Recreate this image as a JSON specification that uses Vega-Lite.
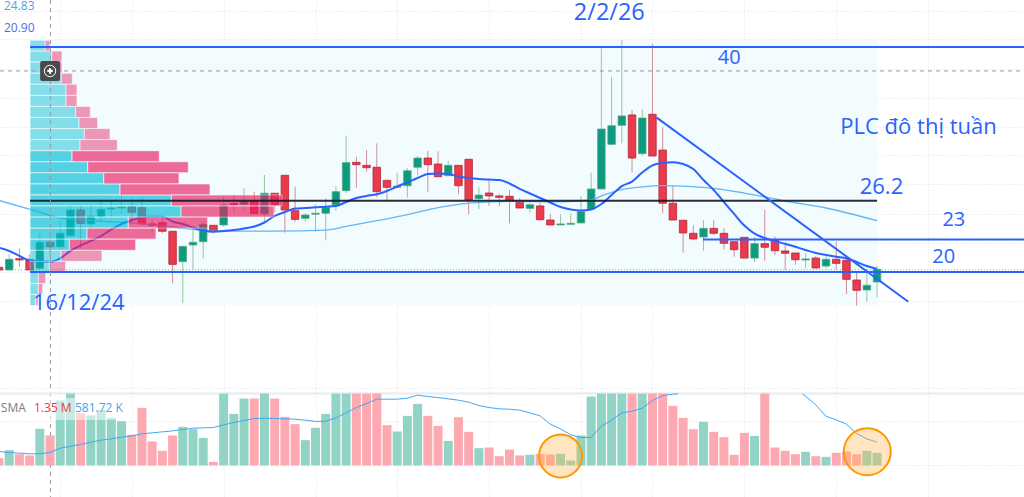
{
  "$schema": "https://vega.github.io/schema/vega-lite/v6.json",
  "description": "PLC weekly candles with volume profile and volume pane",
  "autosize": "none",
  "padding": 0,
  "width": 1024,
  "height": 497,
  "background": "#ffffff",
  "config": {"view": {"stroke": null}, "text": {"font": "Open Sans"}},
  "datasets": {
    "candles": [
      {"week":-1,"open":20.42,"high":20.42,"low":20.18,"close":20.18,"side":"down"},
      {"week":0,"open":20.18,"high":21.6,"low":20.18,"close":21.13,"side":"up"},
      {"week":1,"open":21.18,"high":22.11,"low":20.47,"close":21.07,"side":"down"},
      {"week":2,"open":21.13,"high":21.6,"low":20.18,"close":20.18,"side":"down"},
      {"week":3,"open":20.33,"high":23.38,"low":20.18,"close":22.64,"side":"up"},
      {"week":4,"open":22.64,"high":23.08,"low":21.36,"close":22.25,"side":"down"},
      {"week":5,"open":22.25,"high":24.56,"low":22.11,"close":23.44,"side":"up"},
      {"week":6,"open":23.23,"high":25.96,"low":23.08,"close":25.51,"side":"up"},
      {"week":7,"open":25.51,"high":25.89,"low":22.11,"close":24.33,"side":"down"},
      {"week":8,"open":24.27,"high":25.96,"low":23.88,"close":24.98,"side":"up"},
      {"week":9,"open":24.92,"high":26.55,"low":24.38,"close":25.57,"side":"up"},
      {"week":10,"open":25.6,"high":26.25,"low":24.92,"close":25.69,"side":"up"},
      {"week":11,"open":25.69,"high":26.99,"low":25.22,"close":25.78,"side":"up"},
      {"week":12,"open":25.8,"high":26.55,"low":24.62,"close":25.31,"side":"down"},
      {"week":13,"open":25.72,"high":26.6,"low":24.27,"close":24.27,"side":"down"},
      {"week":14,"open":24.27,"high":24.62,"low":23.58,"close":24.15,"side":"down"},
      {"week":15,"open":24.38,"high":24.92,"low":23.44,"close":23.62,"side":"down"},
      {"week":16,"open":23.62,"high":23.64,"low":19.0,"close":20.68,"side":"down"},
      {"week":17,"open":20.92,"high":22.31,"low":17.22,"close":22.28,"side":"up"},
      {"week":18,"open":22.4,"high":23.73,"low":20.24,"close":22.64,"side":"up"},
      {"week":19,"open":22.69,"high":24.53,"low":21.18,"close":24.24,"side":"up"},
      {"week":20,"open":24.15,"high":24.15,"low":23.44,"close":23.62,"side":"down"},
      {"week":21,"open":24.18,"high":26.69,"low":24.03,"close":25.96,"side":"up"},
      {"week":22,"open":26.07,"high":26.84,"low":25.36,"close":25.98,"side":"down"},
      {"week":23,"open":25.98,"high":27.44,"low":25.36,"close":26.34,"side":"up"},
      {"week":24,"open":26.31,"high":27.14,"low":25.18,"close":25.18,"side":"down"},
      {"week":25,"open":25.16,"high":28.62,"low":24.53,"close":27.0,"side":"up"},
      {"week":26,"open":27.0,"high":27.0,"low":25.27,"close":25.98,"side":"down"},
      {"week":27,"open":28.6,"high":28.6,"low":23.49,"close":25.51,"side":"down"},
      {"week":28,"open":25.45,"high":27.58,"low":24.47,"close":24.68,"side":"down"},
      {"week":29,"open":24.77,"high":25.22,"low":24.47,"close":25.07,"side":"up"},
      {"week":30,"open":25.13,"high":26.02,"low":23.58,"close":25.22,"side":"up"},
      {"week":31,"open":25.22,"high":26.55,"low":22.84,"close":25.75,"side":"up"},
      {"week":32,"open":25.96,"high":27.64,"low":25.45,"close":27.14,"side":"up"},
      {"week":33,"open":27.23,"high":32.12,"low":27.0,"close":29.72,"side":"up"},
      {"week":34,"open":29.75,"high":30.25,"low":27.49,"close":29.54,"side":"down"},
      {"week":35,"open":29.48,"high":30.84,"low":28.92,"close":29.27,"side":"down"},
      {"week":36,"open":29.31,"high":31.44,"low":26.64,"close":27.14,"side":"down"},
      {"week":37,"open":28.15,"high":28.15,"low":26.25,"close":27.53,"side":"down"},
      {"week":38,"open":27.53,"high":28.83,"low":27.44,"close":27.62,"side":"up"},
      {"week":39,"open":27.67,"high":29.22,"low":26.64,"close":29.0,"side":"up"},
      {"week":40,"open":29.31,"high":30.31,"low":28.62,"close":30.13,"side":"up"},
      {"week":41,"open":30.13,"high":30.76,"low":27.14,"close":29.54,"side":"down"},
      {"week":42,"open":29.6,"high":30.73,"low":28.47,"close":28.47,"side":"down"},
      {"week":43,"open":28.56,"high":29.87,"low":28.56,"close":29.48,"side":"up"},
      {"week":44,"open":29.48,"high":29.48,"low":26.91,"close":27.67,"side":"down"},
      {"week":45,"open":30.02,"high":30.02,"low":25.13,"close":26.4,"side":"down"},
      {"week":46,"open":26.52,"high":27.53,"low":25.6,"close":26.84,"side":"up"},
      {"week":47,"open":27.02,"high":28.24,"low":25.89,"close":26.76,"side":"down"},
      {"week":48,"open":26.76,"high":26.91,"low":25.87,"close":26.64,"side":"down"},
      {"week":49,"open":26.73,"high":27.29,"low":24.33,"close":26.31,"side":"down"},
      {"week":50,"open":26.2,"high":26.55,"low":25.66,"close":25.69,"side":"down"},
      {"week":51,"open":25.66,"high":26.11,"low":25.27,"close":25.98,"side":"up"},
      {"week":52,"open":25.87,"high":26.16,"low":24.56,"close":24.65,"side":"down"},
      {"week":53,"open":24.62,"high":25.16,"low":24.18,"close":24.18,"side":"down"},
      {"week":54,"open":24.18,"high":25.13,"low":24.18,"close":24.27,"side":"up"},
      {"week":55,"open":24.24,"high":25.22,"low":24.18,"close":24.33,"side":"up"},
      {"week":56,"open":24.36,"high":26.76,"low":24.33,"close":25.36,"side":"up"},
      {"week":57,"open":25.6,"high":28.83,"low":25.51,"close":27.38,"side":"up"},
      {"week":58,"open":27.38,"high":39.88,"low":27.38,"close":32.71,"side":"up"},
      {"week":59,"open":31.35,"high":37.36,"low":31.29,"close":33.0,"side":"up"},
      {"week":60,"open":33.04,"high":40.62,"low":31.44,"close":33.87,"side":"up"},
      {"week":61,"open":33.96,"high":34.4,"low":28.83,"close":30.13,"side":"down"},
      {"week":62,"open":30.52,"high":34.46,"low":30.31,"close":33.69,"side":"up"},
      {"week":63,"open":34.02,"high":40.27,"low":30.31,"close":30.31,"side":"down"},
      {"week":64,"open":30.84,"high":32.86,"low":25.22,"close":26.11,"side":"down"},
      {"week":65,"open":26.11,"high":27.73,"low":24.62,"close":24.62,"side":"down"},
      {"week":66,"open":24.6,"high":24.6,"low":21.72,"close":23.47,"side":"down"},
      {"week":67,"open":23.44,"high":24.15,"low":22.84,"close":22.94,"side":"down"},
      {"week":68,"open":23.11,"high":24.62,"low":21.89,"close":23.88,"side":"up"},
      {"week":69,"open":23.88,"high":24.62,"low":23.35,"close":23.44,"side":"down"},
      {"week":70,"open":23.44,"high":23.88,"low":22.02,"close":22.55,"side":"down"},
      {"week":71,"open":22.69,"high":22.69,"low":21.36,"close":21.98,"side":"down"},
      {"week":72,"open":23.08,"high":23.08,"low":21.24,"close":21.24,"side":"down"},
      {"week":73,"open":21.24,"high":23.14,"low":20.89,"close":22.52,"side":"up"},
      {"week":74,"open":22.52,"high":25.51,"low":21.0,"close":22.2,"side":"down"},
      {"week":75,"open":22.84,"high":23.14,"low":21.51,"close":21.89,"side":"down"},
      {"week":76,"open":21.87,"high":22.55,"low":20.18,"close":21.66,"side":"down"},
      {"week":77,"open":21.69,"high":21.69,"low":20.65,"close":21.09,"side":"down"},
      {"week":78,"open":21.07,"high":21.66,"low":20.33,"close":21.16,"side":"up"},
      {"week":79,"open":21.24,"high":21.42,"low":20.29,"close":20.36,"side":"down"},
      {"week":80,"open":20.53,"high":21.42,"low":20.29,"close":21.13,"side":"up"},
      {"week":81,"open":21.13,"high":22.69,"low":20.24,"close":20.77,"side":"down"},
      {"week":82,"open":21.04,"high":21.22,"low":18.04,"close":19.35,"side":"down"},
      {"week":83,"open":19.29,"high":19.94,"low":17.0,"close":18.37,"side":"down"},
      {"week":84,"open":18.4,"high":20.24,"low":17.36,"close":18.82,"side":"up"},
      {"week":85,"open":19.11,"high":20.53,"low":17.72,"close":20.24,"side":"up"}
    ],
    "ma_fast": [
      {"week":-1,"price":22.15},{"week":0,"price":21.87},{"week":1,"price":21.44},{"week":2,"price":21.02},{"week":3,"price":20.95},
      {"week":4,"price":20.92},{"week":5,"price":21.22},{"week":6,"price":21.87},{"week":7,"price":22.36},{"week":8,"price":22.76},
      {"week":9,"price":23.2},{"week":10,"price":23.78},{"week":11,"price":24.27},{"week":12,"price":24.58},{"week":13,"price":24.89},
      {"week":14,"price":24.92},{"week":15,"price":24.92},{"week":16,"price":24.49},{"week":17,"price":24.27},{"week":18,"price":23.96},
      {"week":19,"price":23.69},{"week":20,"price":23.58},{"week":21,"price":23.64},{"week":22,"price":23.73},{"week":23,"price":23.87},
      {"week":24,"price":24.04},{"week":25,"price":24.4},{"week":26,"price":24.98},{"week":27,"price":25.33},{"week":28,"price":25.64},
      {"week":29,"price":25.69},{"week":30,"price":25.75},{"week":31,"price":25.8},{"week":32,"price":25.87},{"week":33,"price":26.22},
      {"week":34,"price":26.58},{"week":35,"price":26.76},{"week":36,"price":26.91},{"week":37,"price":27.2},{"week":38,"price":27.6},
      {"week":39,"price":27.97},{"week":40,"price":28.36},{"week":41,"price":28.71},{"week":42,"price":28.76},{"week":43,"price":28.71},
      {"week":44,"price":28.49},{"week":45,"price":28.36},{"week":46,"price":28.27},{"week":47,"price":28.22},{"week":48,"price":28.18},
      {"week":49,"price":27.87},{"week":50,"price":27.38},{"week":51,"price":26.98},{"week":52,"price":26.58},{"week":53,"price":26.18},
      {"week":54,"price":25.78},{"week":55,"price":25.56},{"week":56,"price":25.47},{"week":57,"price":25.56},{"week":58,"price":26.04},
      {"week":59,"price":26.84},{"week":60,"price":27.64},{"week":61,"price":28.03},{"week":62,"price":28.84},{"week":63,"price":29.48},
      {"week":64,"price":29.69},{"week":65,"price":29.75},{"week":66,"price":29.6},{"week":67,"price":29.16},{"week":68,"price":28.18},
      {"week":69,"price":27.29},{"week":70,"price":26.22},{"week":71,"price":25.16},{"week":72,"price":24.13},{"week":73,"price":23.42},
      {"week":74,"price":23.02},{"week":75,"price":22.73},{"week":76,"price":22.51},{"week":77,"price":22.24},{"week":78,"price":21.96},
      {"week":79,"price":21.69},{"week":80,"price":21.51},{"week":81,"price":21.35},{"week":82,"price":21.23},{"week":83,"price":20.89},
      {"week":84,"price":20.53},{"week":85,"price":20.27}
    ],
    "ma_slow": [
      {"week":-1,"price":26.36},{"week":3,"price":25.33},{"week":5,"price":24.8},{"week":7,"price":24.67},{"week":9,"price":24.53},
      {"week":12,"price":24.36},{"week":16,"price":24.0},{"week":20,"price":23.64},{"week":26,"price":23.63},{"week":31,"price":23.73},
      {"week":33,"price":24.05},{"week":36,"price":24.56},{"week":39,"price":25.11},{"week":42,"price":25.73},{"week":45,"price":26.13},
      {"week":49,"price":26.29},{"week":54,"price":26.24},{"week":57,"price":26.4},{"week":58,"price":26.76},{"week":60,"price":27.32},
      {"week":62,"price":27.56},{"week":64,"price":27.67},{"week":68,"price":27.53},{"week":72,"price":27.02},{"week":76,"price":26.31},
      {"week":80,"price":25.69},{"week":85,"price":24.56}
    ],
    "profile": [
      {"hi":40.6,"lo":39.64,"base":0,"up":15,"total":20,"zone":"outside"},
      {"hi":39.64,"lo":38.66,"base":0,"up":21.7,"total":32,"zone":"outside"},
      {"hi":38.66,"lo":37.67,"base":0,"up":22,"total":32,"zone":"outside"},
      {"hi":37.67,"lo":36.69,"base":0,"up":31.3,"total":42.3,"zone":"outside"},
      {"hi":36.69,"lo":35.7,"base":0,"up":36,"total":47,"zone":"outside"},
      {"hi":35.7,"lo":34.72,"base":0,"up":36,"total":47,"zone":"outside"},
      {"hi":34.72,"lo":33.74,"base":0,"up":45.7,"total":60.3,"zone":"outside"},
      {"hi":33.74,"lo":32.75,"base":0,"up":49,"total":67.7,"zone":"outside"},
      {"hi":32.75,"lo":31.77,"base":0,"up":54.3,"total":80,"zone":"outside"},
      {"hi":31.77,"lo":30.78,"base":0,"up":50,"total":87.3,"zone":"outside"},
      {"hi":30.78,"lo":29.8,"base":0,"up":42,"total":129.3,"zone":"value"},
      {"hi":29.8,"lo":28.82,"base":0,"up":57.7,"total":158.3,"zone":"value"},
      {"hi":28.82,"lo":27.83,"base":0,"up":73.7,"total":149,"zone":"value"},
      {"hi":27.83,"lo":26.85,"base":0,"up":90,"total":180,"zone":"value"},
      {"hi":26.85,"lo":25.87,"base":0,"up":141.3,"total":252,"zone":"value"},
      {"hi":25.87,"lo":24.88,"base":0,"up":151,"total":244,"zone":"value"},
      {"hi":24.88,"lo":23.9,"base":0,"up":98.3,"total":177.7,"zone":"value"},
      {"hi":23.9,"lo":22.92,"base":0,"up":57,"total":126,"zone":"value"},
      {"hi":22.92,"lo":21.93,"base":0,"up":39.3,"total":105.7,"zone":"value"},
      {"hi":21.93,"lo":20.95,"base":0,"up":31,"total":72,"zone":"outside"},
      {"hi":20.95,"lo":19.97,"base":0,"up":19.3,"total":35.7,"zone":"outside"},
      {"hi":19.97,"lo":18.98,"base":0,"up":8.3,"total":15.7,"zone":"outside"},
      {"hi":18.98,"lo":18.0,"base":0,"up":8.3,"total":12.7,"zone":"outside"},
      {"hi":18.0,"lo":17.02,"base":0,"up":5.7,"total":8.3,"zone":"outside"}
    ],
    "volume": [
      {"week":-1,"vol":183,"side":"down"},{"week":0,"vol":383,"side":"up"},{"week":1,"vol":283,"side":"down"},{"week":2,"vol":250,"side":"down"},
      {"week":3,"vol":917,"side":"up"},{"week":4,"vol":750,"side":"down"},{"week":5,"vol":1625,"side":"up"},{"week":6,"vol":1800,"side":"up"},
      {"week":7,"vol":1308,"side":"down"},{"week":8,"vol":1250,"side":"up"},{"week":9,"vol":1391,"side":"up"},{"week":10,"vol":1191,"side":"up"},
      {"week":11,"vol":1108,"side":"up"},{"week":12,"vol":766,"side":"down"},{"week":13,"vol":1441,"side":"down"},{"week":14,"vol":600,"side":"down"},
      {"week":15,"vol":367,"side":"down"},{"week":16,"vol":750,"side":"down"},{"week":17,"vol":966,"side":"up"},{"week":18,"vol":908,"side":"up"},
      {"week":19,"vol":691,"side":"up"},{"week":20,"vol":92,"side":"down"},{"week":21,"vol":1800,"side":"up"},{"week":22,"vol":1291,"side":"up"},
      {"week":23,"vol":1674,"side":"up"},{"week":24,"vol":1674,"side":"down"},{"week":25,"vol":1800,"side":"up"},{"week":26,"vol":1674,"side":"down"},
      {"week":27,"vol":1216,"side":"down"},{"week":28,"vol":1033,"side":"down"},{"week":29,"vol":633,"side":"up"},{"week":30,"vol":941,"side":"up"},
      {"week":31,"vol":1291,"side":"up"},{"week":32,"vol":1800,"side":"up"},{"week":33,"vol":1800,"side":"up"},{"week":34,"vol":1800,"side":"down"},
      {"week":35,"vol":1800,"side":"down"},{"week":36,"vol":1800,"side":"down"},{"week":37,"vol":1008,"side":"down"},{"week":38,"vol":850,"side":"up"},
      {"week":39,"vol":1241,"side":"up"},{"week":40,"vol":1541,"side":"up"},{"week":41,"vol":1241,"side":"down"},{"week":42,"vol":991,"side":"down"},
      {"week":43,"vol":616,"side":"up"},{"week":44,"vol":1208,"side":"down"},{"week":45,"vol":841,"side":"down"},{"week":46,"vol":433,"side":"up"},
      {"week":47,"vol":450,"side":"down"},{"week":48,"vol":233,"side":"down"},{"week":49,"vol":400,"side":"down"},{"week":50,"vol":250,"side":"down"},
      {"week":51,"vol":267,"side":"up"},{"week":52,"vol":292,"side":"down"},{"week":53,"vol":275,"side":"down"},{"week":54,"vol":292,"side":"up"},
      {"week":55,"vol":125,"side":"up"},{"week":56,"vol":750,"side":"up"},{"week":57,"vol":1724,"side":"up"},{"week":58,"vol":1800,"side":"up"},
      {"week":59,"vol":1800,"side":"up"},{"week":60,"vol":1800,"side":"up"},{"week":61,"vol":1800,"side":"down"},{"week":62,"vol":1800,"side":"up"},
      {"week":63,"vol":1800,"side":"down"},{"week":64,"vol":1800,"side":"down"},{"week":65,"vol":1491,"side":"down"},{"week":66,"vol":1191,"side":"down"},
      {"week":67,"vol":908,"side":"down"},{"week":68,"vol":1091,"side":"up"},{"week":69,"vol":841,"side":"down"},{"week":70,"vol":708,"side":"down"},
      {"week":71,"vol":267,"side":"down"},{"week":72,"vol":816,"side":"down"},{"week":73,"vol":741,"side":"up"},{"week":74,"vol":1800,"side":"down"},
      {"week":75,"vol":450,"side":"down"},{"week":76,"vol":367,"side":"down"},{"week":77,"vol":283,"side":"down"},{"week":78,"vol":342,"side":"up"},
      {"week":79,"vol":233,"side":"down"},{"week":80,"vol":217,"side":"up"},{"week":81,"vol":317,"side":"down"},{"week":82,"vol":350,"side":"down"},
      {"week":83,"vol":283,"side":"down"},{"week":84,"vol":367,"side":"up"},{"week":85,"vol":317,"side":"up"}
    ],
    "vol_sma": [
      {"week":-1,"vol":350,"part":"a"},{"week":0,"vol":325,"part":"a"},{"week":1,"vol":308,"part":"a"},{"week":2,"vol":292,"part":"a"},{"week":3,"vol":292,"part":"a"},
      {"week":4,"vol":325,"part":"a"},{"week":5,"vol":433,"part":"a"},{"week":6,"vol":483,"part":"a"},{"week":7,"vol":525,"part":"a"},{"week":8,"vol":583,"part":"a"},
      {"week":9,"vol":633,"part":"a"},{"week":10,"vol":666,"part":"a"},{"week":11,"vol":708,"part":"a"},{"week":12,"vol":741,"part":"a"},{"week":13,"vol":791,"part":"a"},
      {"week":14,"vol":816,"part":"a"},{"week":15,"vol":841,"part":"a"},{"week":16,"vol":866,"part":"a"},{"week":17,"vol":900,"part":"a"},{"week":18,"vol":933,"part":"a"},
      {"week":19,"vol":941,"part":"a"},{"week":20,"vol":950,"part":"a"},{"week":21,"vol":1016,"part":"a"},{"week":22,"vol":1075,"part":"a"},{"week":23,"vol":1125,"part":"a"},
      {"week":24,"vol":1175,"part":"a"},{"week":25,"vol":1183,"part":"a"},{"week":26,"vol":1175,"part":"a"},{"week":27,"vol":1166,"part":"a"},{"week":28,"vol":1158,"part":"a"},
      {"week":29,"vol":1133,"part":"a"},{"week":30,"vol":1100,"part":"a"},{"week":31,"vol":1108,"part":"a"},{"week":32,"vol":1191,"part":"a"},{"week":33,"vol":1316,"part":"a"},
      {"week":34,"vol":1449,"part":"a"},{"week":35,"vol":1549,"part":"a"},{"week":36,"vol":1658,"part":"a"},{"week":37,"vol":1658,"part":"a"},{"week":38,"vol":1658,"part":"a"},
      {"week":39,"vol":1683,"part":"a"},{"week":40,"vol":1758,"part":"a"},{"week":41,"vol":1724,"part":"a"},{"week":42,"vol":1699,"part":"a"},{"week":43,"vol":1666,"part":"a"},
      {"week":44,"vol":1633,"part":"a"},{"week":45,"vol":1583,"part":"a"},{"week":46,"vol":1499,"part":"a"},{"week":47,"vol":1449,"part":"a"},{"week":48,"vol":1416,"part":"a"},
      {"week":49,"vol":1408,"part":"a"},{"week":50,"vol":1383,"part":"a"},{"week":51,"vol":1316,"part":"a"},{"week":52,"vol":1241,"part":"a"},{"week":53,"vol":1033,"part":"a"},
      {"week":54,"vol":916,"part":"a"},{"week":55,"vol":766,"part":"a"},{"week":56,"vol":700,"part":"a"},{"week":57,"vol":700,"part":"a"},{"week":58,"vol":983,"part":"a"},
      {"week":59,"vol":1133,"part":"a"},{"week":60,"vol":1316,"part":"a"},{"week":61,"vol":1358,"part":"a"},{"week":62,"vol":1433,"part":"a"},{"week":63,"vol":1624,"part":"a"},
      {"week":64,"vol":1749,"part":"a"},{"week":65,"vol":1783,"part":"a"},{"week":65.5,"vol":1791,"part":"a"},
      {"week":77.7,"vol":1791,"part":"b"},{"week":78,"vol":1733,"part":"b"},{"week":79,"vol":1516,"part":"b"},{"week":80,"vol":1233,"part":"b"},{"week":81,"vol":1141,"part":"b"},
      {"week":82,"vol":1033,"part":"b"},{"week":83,"vol":800,"part":"b"},{"week":84,"vol":666,"part":"b"},{"week":85,"vol":581.72,"part":"b"}
    ]
  },
  "resolve": {"scale": {"x": "independent", "y": "independent", "color": "independent", "fill": "independent", "stroke": "independent", "opacity": "independent"}},
  "layer": [
    {
      "encoding": {
        "x": {"field": "week", "type": "quantitative", "title": null, "scale": {"domain": [-0.901, 99.39], "nice": false, "zero": false, "padding": 0},
          "axis": {"orient": "bottom", "values": [5, 12, 21, 30, 38, 47, 56, 63, 72, 81, 90], "domain": false, "ticks": false, "labels": false, "title": null, "grid": true, "gridColor": "#dfe2ea", "gridDash": [1, 2]}},
        "y": {"field": "price", "type": "quantitative", "title": null, "scale": {"domain": [0, 44.178], "nice": false, "zero": false},
          "axis": {"orient": "left", "values": [43.24, 40.67, 38.08, 35.51, 32.93, 30.36, 27.78, 25.2, 22.58, 20, 17.45, 9.72, 6.76, 2.81], "domain": false, "ticks": false, "labels": false, "title": null, "grid": true, "gridColor": "#dfe2ea", "gridDash": [1, 2]}}
      },
      "layer": [
        {
          "data": {"values": [{"week": 2.04, "end": 85, "price": 40.62, "bottom": 17.02}]},
          "mark": {"type": "rect", "color": "#f2fbfe"},
          "encoding": {"x2": {"field": "end"}, "y2": {"field": "bottom"}}
        },
        {
          "data": {"name": "candles"},
          "mark": {"type": "rule", "strokeWidth": 1, "opacity": 0.55},
          "encoding": {
            "y": {"field": "high", "type": "quantitative"},
            "y2": {"field": "low"},
            "color": {"field": "side", "type": "nominal", "legend": null, "scale": {"domain": ["up", "down"], "range": ["#4f9a4f", "#b5363f"]}}
          }
        },
        {
          "data": {"name": "candles"},
          "mark": {"type": "bar", "size": 7.5, "orient": "vertical", "strokeWidth": 0.8},
          "encoding": {
            "y": {"field": "open", "type": "quantitative"},
            "y2": {"field": "close"},
            "fill": {"field": "side", "type": "nominal", "legend": null, "scale": {"domain": ["up", "down"], "range": ["#0a9b80", "#ea3b4c"]}},
            "stroke": {"field": "side", "type": "nominal", "legend": null, "scale": {"domain": ["up", "down"], "range": ["#5aa57c", "#b8233a"]}}
          }
        },
        {
          "data": {"name": "ma_slow"},
          "mark": {"type": "line", "stroke": "#64b5f6", "strokeWidth": 1.3, "interpolate": "monotone"},
          "encoding": {}
        },
        {
          "data": {"name": "ma_fast"},
          "mark": {"type": "line", "stroke": "#2962ff", "strokeWidth": 2, "interpolate": "monotone"},
          "encoding": {}
        }
      ]
    },
    {
      "data": {"name": "profile"},
      "encoding": {
        "x": {"field": "base", "type": "quantitative", "scale": {"domain": [-30, 994], "nice": false, "zero": false}, "axis": null},
        "y": {"field": "hi", "type": "quantitative", "scale": {"domain": [0, 44.178], "nice": false, "zero": false}, "axis": null},
        "y2": {"field": "lo"},
        "opacity": {"field": "zone", "type": "nominal", "legend": null, "scale": {"domain": ["value", "outside"], "range": [0.65, 0.45]}}
      },
      "layer": [
        {
          "mark": {"type": "rect", "color": "#00bcd4", "stroke": "#ffffff", "strokeWidth": 0.7},
          "encoding": {"x2": {"field": "up"}}
        },
        {
          "mark": {"type": "rect", "color": "#e91e63", "stroke": "#ffffff", "strokeWidth": 0.7},
          "encoding": {"x": {"field": "up", "type": "quantitative"}, "x2": {"field": "total"}}
        }
      ]
    },
    {
      "encoding": {
        "x": {"field": "week", "type": "quantitative", "scale": {"domain": [-0.901, 99.39], "nice": false, "zero": false}, "axis": null},
        "y": {"field": "price", "type": "quantitative", "scale": {"domain": [0, 44.178], "nice": false, "zero": false}, "axis": null}
      },
      "layer": [
        {
          "data": {"values": [{"week": -0.901, "end": 99.39, "price": 37.87}]},
          "mark": {"type": "rule", "stroke": "#9598a1", "strokeWidth": 1, "strokeDash": [4, 4]},
          "encoding": {"x2": {"field": "end"}}
        },
        {
          "data": {"values": [{"week": -0.901, "end": 99.39, "price": 20.2}]},
          "mark": {"type": "rule", "stroke": "#089981", "strokeWidth": 1, "strokeDash": [1, 2], "opacity": 0.6},
          "encoding": {"x2": {"field": "end"}}
        },
        {
          "data": {"values": [{"week": 2.04, "end": 85, "price": 26.33}]},
          "mark": {"type": "rule", "stroke": "#131722", "strokeWidth": 2, "opacity": 0.9},
          "encoding": {"x2": {"field": "end"}}
        },
        {
          "data": {"values": [
            {"week": 2.04, "end": 99.39, "price": 40},
            {"week": 67.95, "end": 99.39, "price": 22.9},
            {"week": 2.04, "end": 99.39, "price": 20}
          ]},
          "mark": {"type": "rule", "stroke": "#2962ff", "strokeWidth": 2},
          "encoding": {"x2": {"field": "end"}}
        },
        {
          "data": {"values": [{"week": 63.42, "price": 33.72}, {"week": 88.06, "price": 17.36}]},
          "mark": {"type": "line", "stroke": "#2962ff", "strokeWidth": 2},
          "encoding": {}
        },
        {
          "data": {"values": [{"week": 4.04, "price": 44.178, "bottom": 0}]},
          "mark": {"type": "rule", "stroke": "#9598a1", "strokeWidth": 1, "strokeDash": [4, 4]},
          "encoding": {"y2": {"field": "bottom"}}
        },
        {
          "data": {"values": [{"week": 3.03, "end": 4.99, "price": 38.76, "bottom": 36.98}]},
          "mark": {"type": "rect", "color": "#4a4a4d", "cornerRadius": 2},
          "encoding": {"x2": {"field": "end"}, "y2": {"field": "bottom"}}
        },
        {
          "data": {"values": [{"week": 4.0, "price": 37.87}]},
          "mark": {"type": "point", "shape": "circle", "size": 130, "stroke": "#ffffff", "strokeWidth": 1, "filled": false, "opacity": 1},
          "encoding": {}
        },
        {
          "data": {"values": [{"week": 4.0, "price": 37.87}]},
          "mark": {"type": "point", "shape": "cross", "size": 30, "fill": "#ffffff", "filled": true, "opacity": 1},
          "encoding": {}
        },
        {
          "data": {"values": [{"week": -0.51, "price": 43.62, "label": "24.83"}]},
          "mark": {"type": "text", "align": "left", "baseline": "middle", "fontSize": 12, "color": "#4ea0ef"},
          "encoding": {"text": {"field": "label", "type": "nominal"}}
        },
        {
          "data": {"values": [{"week": -0.51, "price": 41.69, "label": "20.90"}]},
          "mark": {"type": "text", "align": "left", "baseline": "middle", "fontSize": 12, "color": "#4a72e0"},
          "encoding": {"text": {"field": "label", "type": "nominal"}}
        },
        {
          "data": {"values": [
            {"week": 69.4, "price": 39.02, "label": "40"},
            {"week": 91.4, "price": 24.62, "label": "23"},
            {"week": 90.4, "price": 21.33, "label": "20"}
          ]},
          "mark": {"type": "text", "align": "left", "baseline": "middle", "fontSize": 20, "color": "#2962ff"},
          "encoding": {"text": {"field": "label", "type": "nominal"}}
        },
        {
          "data": {"values": [
            {"week": 2.33, "price": 17.24, "label": "16/12/24"},
            {"week": 81.4, "price": 32.9, "label": "PLC đô thị tuần"},
            {"week": 83.3, "price": 27.56, "label": "26.2"}
          ]},
          "mark": {"type": "text", "align": "left", "baseline": "middle", "fontSize": 22, "color": "#2962ff"},
          "encoding": {"text": {"field": "label", "type": "nominal"}}
        },
        {
          "data": {"values": [{"week": 55.3, "price": 42.99, "label": "2/2/26"}]},
          "mark": {"type": "text", "align": "left", "baseline": "middle", "fontSize": 23.5, "color": "#2962ff"},
          "encoding": {"text": {"field": "label", "type": "nominal"}}
        }
      ]
    },
    {
      "encoding": {
        "x": {"field": "week", "type": "quantitative", "scale": {"domain": [-0.901, 99.39], "nice": false, "zero": false, "padding": 0}, "axis": null},
        "y": {"field": "vol", "type": "quantitative", "scale": {"domain": [-787.5, 11637.5], "nice": false, "zero": false}, "axis": null}
      },
      "layer": [
        {
          "data": {"values": [{"week": -0.901, "end": 99.39, "vol": 1800}]},
          "mark": {"type": "rule", "stroke": "#eceef3", "strokeWidth": 2.5},
          "encoding": {"x2": {"field": "end"}}
        },
        {
          "data": {"name": "volume"},
          "mark": {"type": "bar", "size": 9, "orient": "vertical"},
          "encoding": {
            "y": {"field": "vol", "type": "quantitative", "stack": null},
            "color": {"field": "side", "type": "nominal", "legend": null, "scale": {"domain": ["up", "down"], "range": ["#91d4c6", "#fda9b2"]}}
          }
        },
        {
          "data": {"values": [{"week": -0.901, "end": 11.05, "vol": 1687, "bottom": 1137}]},
          "mark": {"type": "rect", "color": "#ffffff", "opacity": 0.5},
          "encoding": {"x2": {"field": "end"}, "y2": {"field": "bottom"}}
        },
        {
          "data": {"name": "vol_sma"},
          "mark": {"type": "line", "stroke": "#42a5f5", "strokeWidth": 1},
          "encoding": {"detail": {"field": "part", "type": "nominal"}}
        },
        {
          "data": {"values": [{"week": -0.82, "vol": 1437, "label": "SMA"}]},
          "mark": {"type": "text", "align": "left", "baseline": "middle", "fontSize": 12, "color": "#787b86"},
          "encoding": {"text": {"field": "label", "type": "nominal"}}
        },
        {
          "data": {"values": [{"week": 2.43, "vol": 1437, "label": "1.35 M"}]},
          "mark": {"type": "text", "align": "left", "baseline": "middle", "fontSize": 12, "color": "#f23645"},
          "encoding": {"text": {"field": "label", "type": "nominal"}}
        },
        {
          "data": {"values": [{"week": 6.44, "vol": 1437, "label": "581.72 K"}]},
          "mark": {"type": "text", "align": "left", "baseline": "middle", "fontSize": 12, "color": "#42a5f5"},
          "encoding": {"text": {"field": "label", "type": "nominal"}}
        },
        {
          "data": {"values": [{"week": 54.0, "vol": 240}]},
          "mark": {"type": "point", "shape": "circle", "size": 1849, "filled": true, "fill": "#ffb74d", "fillOpacity": 0.35, "opacity": 1, "stroke": "#ff9800", "strokeOpacity": 1, "strokeWidth": 2},
          "encoding": {}
        },
        {
          "data": {"values": [{"week": 84.04, "vol": 344}]},
          "mark": {"type": "point", "shape": "circle", "size": 2209, "filled": true, "fill": "#ffb74d", "fillOpacity": 0.35, "opacity": 1, "stroke": "#ff9800", "strokeOpacity": 1, "strokeWidth": 2},
          "encoding": {}
        }
      ]
    }
  ]
}
